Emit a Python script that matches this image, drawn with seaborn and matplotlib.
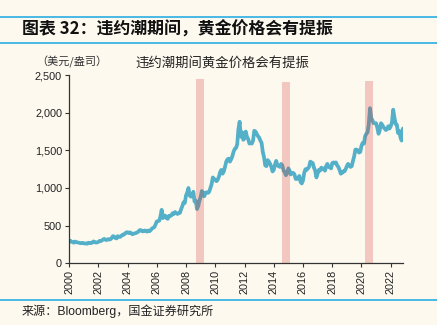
import numpy as np
import pandas as pd
import matplotlib
matplotlib.use("Agg")
import matplotlib.pyplot as plt
import seaborn as sns

# Gold spot price (USD/oz), one reading per month, Jan 2000 - Nov 2022
years = list(range(2000, 2023))
gold_by_year = {
    2000: [285, 300, 285, 280, 273, 288, 282, 276, 273, 270, 266, 271],
    2001: [266, 262, 263, 260, 272, 270, 266, 274, 290, 282, 275, 277],
    2002: [282, 297, 294, 303, 317, 323, 310, 310, 320, 315, 318, 335],
    2003: [360, 355, 335, 330, 360, 352, 350, 365, 380, 380, 395, 410],
    2004: [412, 402, 410, 400, 385, 393, 398, 402, 410, 422, 440, 440],
    2005: [425, 425, 435, 430, 420, 435, 425, 440, 460, 470, 480, 515],
    2006: [555, 560, 565, 620, 710, 600, 635, 630, 600, 590, 630, 630],
    2007: [635, 665, 655, 680, 665, 655, 665, 670, 720, 760, 810, 800],
    2008: [900, 940, 1000, 900, 885, 890, 950, 820, 830, 720, 760, 830],
    2009: [880, 960, 920, 890, 940, 940, 935, 950, 1000, 1050, 1140, 1120],
    2010: [1110, 1090, 1110, 1150, 1210, 1240, 1190, 1220, 1280, 1350, 1380, 1390],
    2011: [1350, 1380, 1420, 1480, 1520, 1530, 1580, 1780, 1880, 1680, 1740, 1640],
    2012: [1660, 1750, 1680, 1650, 1590, 1600, 1590, 1630, 1760, 1750, 1720, 1690],
    2013: [1670, 1630, 1600, 1480, 1410, 1300, 1290, 1370, 1350, 1320, 1280, 1220],
    2014: [1240, 1310, 1360, 1300, 1290, 1280, 1320, 1300, 1230, 1210, 1170, 1200],
    2015: [1260, 1230, 1180, 1200, 1200, 1180, 1120, 1120, 1130, 1160, 1080, 1060],
    2016: [1100, 1200, 1250, 1240, 1260, 1280, 1350, 1340, 1330, 1270, 1230, 1140],
    2017: [1190, 1240, 1230, 1270, 1250, 1260, 1230, 1290, 1320, 1280, 1280, 1260],
    2018: [1330, 1340, 1330, 1340, 1300, 1280, 1240, 1190, 1200, 1220, 1220, 1250],
    2019: [1290, 1320, 1300, 1280, 1290, 1360, 1420, 1510, 1510, 1500, 1470, 1480],
    2020: [1560, 1600, 1590, 1690, 1720, 1740, 1850, 2060, 1930, 1900, 1860, 1860],
    2021: [1860, 1800, 1720, 1770, 1860, 1840, 1810, 1790, 1770, 1780, 1820, 1790],
    2022: [1820, 1870, 2040, 1940, 1850, 1840, 1730, 1760, 1670, 1630, 1790],
}

# Default waves (shaded periods), in fractional years
wave_start = [2008.69, 2014.59, 2020.25]
wave_end = [2009.23, 2015.14, 2020.80]
wave_top = [2450, 2410, 2420]

year_ticks = list(range(2000, 2023, 2))
value_ticks = [0, 500, 1000, 1500, 2000, 2500]

title = "图表 32：违约潮期间，黄金价格会有提振"
chart_title = "违约潮期间黄金价格会有提振"
unit_label = "（美元/盎司）"
source = "来源：Bloomberg，国金证券研究所"

rows = []
for y in years:
    for m, v in enumerate(gold_by_year[y]):
        rows.append({"t": y + m / 12.0, "price": v})
df = pd.DataFrame(rows)

bg = "#FDF9EF"
line_blue = "#4BACC6"
rule_blue = "#3BB4E5"

sns.set_theme(style="ticks")
plt.rcParams["font.family"] = ["Liberation Sans", "Noto Sans CJK SC", "DejaVu Sans"]
plt.rcParams["axes.unicode_minus"] = False

fig = plt.figure(figsize=(4.37, 3.25), dpi=100, facecolor=bg)
ax = fig.add_axes([0.158, 0.19, 0.764, 0.579])
ax.set_facecolor(bg)

sns.lineplot(data=df, x="t", y="price", ax=ax, color=line_blue, linewidth=2.7,
             alpha=0.95, zorder=2, legend=False)

ax.bar(wave_start, wave_top, width=np.array(wave_end) - np.array(wave_start),
       align="edge", color="#D53530", alpha=0.25, linewidth=0, zorder=3)

ax.set_xlim(2000, df["t"].iloc[-1])
ax.set_ylim(0, 2500)
ax.set_xticks(year_ticks)
ax.set_xticklabels([str(y) for y in year_ticks], rotation=90, fontsize=7.8,
                   color="#222222")
ax.set_yticks(value_ticks)
ax.set_yticklabels([f"{v:,}" for v in value_ticks], fontsize=7.8, color="#222222")
ax.tick_params(axis="both", length=3, width=0.8, color="#333333", pad=2)
ax.set_xlabel("")
ax.set_ylabel("")
for side in ("top", "right"):
    ax.spines[side].set_visible(False)
for side in ("left", "bottom"):
    ax.spines[side].set_color("#333333")
    ax.spines[side].set_linewidth(0.9)

# header / footer rules
for yy in (0.948, 0.868, 0.076):
    fig.add_artist(plt.Line2D([0, 1], [yy, yy], transform=fig.transFigure,
                              color=rule_blue, linewidth=1.3))

fig.text(0.05, 0.908, title, fontsize=12.2, fontweight="bold",
         family=["Noto Sans CJK SC"], color="#111111", va="center", ha="left")
fig.text(0.508, 0.806, chart_title, fontsize=9.6, family=["Noto Sans CJK SC"],
         color="#222222", va="center", ha="center")
fig.text(0.165, 0.808, unit_label, fontsize=8, family=["Noto Sans CJK SC"],
         color="#333333", va="center", ha="center")
fig.text(0.05, 0.043, source, fontsize=8.7, color="#222222", va="center", ha="left")

fig.savefig("out.png", dpi=100, facecolor=bg)
